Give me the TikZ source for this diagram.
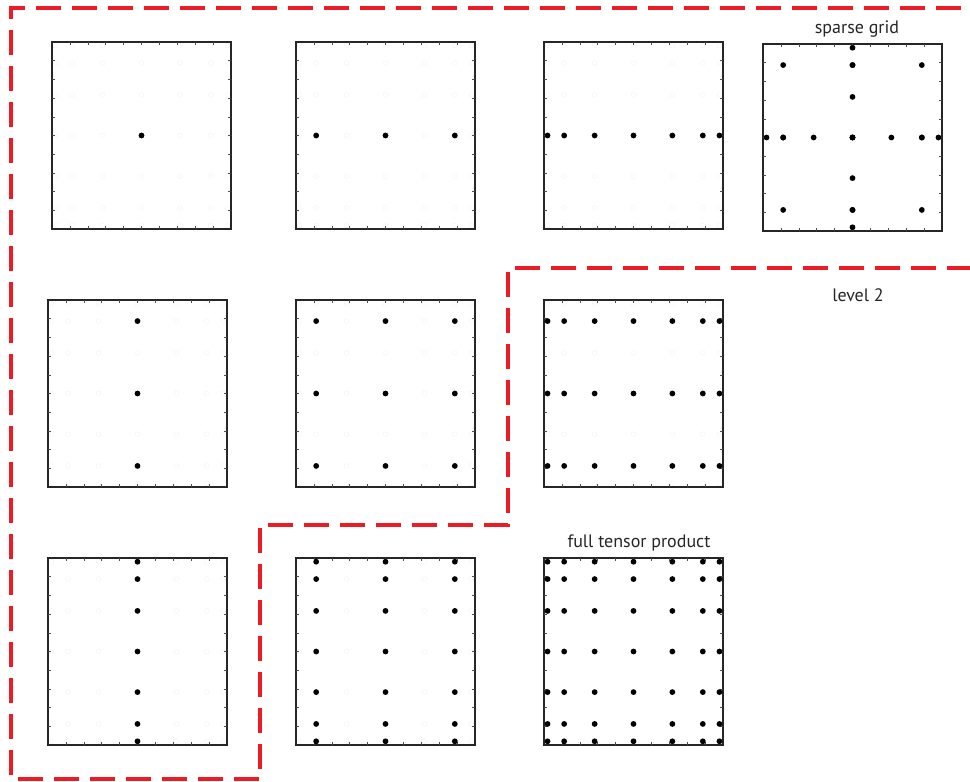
\documentclass[tikz,border=0pt]{standalone}
\usepackage{fontspec}
\setmainfont{PT Sans}
\definecolor{dashred}{HTML}{ED1C24}
\tikzset{
  gbox/.style={draw=black!85, line width=1.3pt},
  gtick/.style={draw=black!70, line width=0.6pt},
  gdot/.style={fill=black},
  ghost/.style={draw=black!5, line width=0.4pt},
  redline/.style={draw=dashred, line width=4pt, dash pattern=on 25pt off 11pt},
  lbl/.style={font=\fontsize{18}{21}\selectfont, text=black!85, inner sep=0pt}
}
\newcommand\gpA{0.5}
\newcommand\gpB{0.1127,0.5,0.8873}
\newcommand\gpC{0.0198,0.1127,0.2829,0.5,0.7171,0.8873,0.9802}
% #1 name, #2 x0, #3 y0, #4 x list, #5 y list, #6 ghost (1/0)
\newcommand\gridbox[6]{%
  \begin{scope}[shift={(#2,#3)}]
    \ifnum#6=1
      \foreach \gx in \gpC {\foreach \gy in \gpC {
        \draw[ghost] (\gx*179,{(1-\gy)*187}) circle[radius=2.4pt];}}
    \fi
    \node[gbox, minimum width=179pt, minimum height=187pt, anchor=north west, inner sep=0pt, outer sep=0pt] (#1) at (0,0) {};
    \foreach \i in {1,...,9} {
      \draw[gtick] (\i*17.9,0) -- ++(0,3);
      \draw[gtick] (\i*17.9,187) -- ++(0,-3);
      \draw[gtick] (0,\i*18.7) -- ++(3,0);
      \draw[gtick] (179,\i*18.7) -- ++(-3,0);
    }
    \foreach \fx in #4 {\foreach \fy in #5 {
      \fill[gdot] (\fx*179,{(1-\fy)*187}) circle[radius=2.9pt];}}
  \end{scope}}
\begin{document}
\begin{tikzpicture}[x=1pt,y=-1pt]
  \useasboundingbox (0,0) rectangle (970,782);
  % row 1
  \gridbox{b11}{52}{42}{\gpA}{\gpA}{1}
  \gridbox{b12}{296}{42}{\gpB}{\gpA}{1}
  \gridbox{b13}{544}{42}{\gpC}{\gpA}{1}
  % sparse grid
  \begin{scope}[shift={(763,44)}]
    \node[gbox, minimum width=179pt, minimum height=187pt, anchor=north west, inner sep=0pt, outer sep=0pt] (sg) at (0,0) {};
    \foreach \i in {1,...,9} {
      \draw[gtick] (\i*17.9,0) -- ++(0,3);
      \draw[gtick] (\i*17.9,187) -- ++(0,-3);
      \draw[gtick] (0,\i*18.7) -- ++(3,0);
      \draw[gtick] (179,\i*18.7) -- ++(-3,0);
    }
    \foreach \fx in \gpC {\fill[gdot] (\fx*179,93.5) circle[radius=2.9pt];}
    \foreach \fy in \gpC {\fill[gdot] (89.5,{(1-\fy)*187}) circle[radius=2.9pt];}
    \foreach \fx in \gpB {\foreach \fy in \gpB {
      \fill[gdot] (\fx*179,{(1-\fy)*187}) circle[radius=2.9pt];}}
  \end{scope}
  % row 2
  \gridbox{b21}{48}{300}{\gpA}{\gpB}{1}
  \gridbox{b22}{296}{300}{\gpB}{\gpB}{1}
  \gridbox{b23}{544}{300}{\gpC}{\gpB}{1}
  % row 3
  \gridbox{b31}{48}{558}{\gpA}{\gpC}{1}
  \gridbox{b32}{296}{558}{\gpB}{\gpC}{1}
  \gridbox{b33}{544}{558}{\gpC}{\gpC}{0}
  % labels
  \node[lbl] (lsg) at (857,29) {sparse grid};
  \node[lbl] (llv) at (858,295) {level 2};
  \node[lbl] (lft) at (639,543) {full tensor product};
  % red dashed boundary
  \coordinate (r1) at (972,268);
  \coordinate (r2) at (508,268);
  \coordinate (r3) at (508,525);
  \coordinate (r4) at (260,525);
  \coordinate (r5) at (260,779);
  \coordinate (r6) at (11,779);
  \coordinate (r7) at (11,8);
  \coordinate (r8) at (972,8);
  \draw[redline] (r1) -- (r2) -- (r3) -- (r4) -- (r5) -- (r6) -- (r7) -- (r8);
\end{tikzpicture}
\end{document}
